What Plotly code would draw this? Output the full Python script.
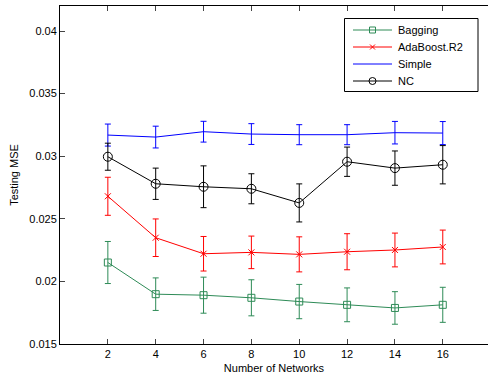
import plotly.graph_objects as go

networks = [2, 4, 6, 8, 10, 12, 14, 16]

bagging = [0.02151, 0.01898, 0.01890, 0.01869, 0.01839, 0.01813, 0.01788, 0.01813]
bagging_err = [0.00168, 0.00130, 0.00144, 0.00144, 0.00137, 0.00135, 0.00130, 0.00140]

adaboost = [0.02680, 0.02349, 0.02221, 0.02232, 0.02216, 0.02237, 0.02251, 0.02275]
adaboost_err = [0.00152, 0.00150, 0.00138, 0.00130, 0.00140, 0.00144, 0.00135, 0.00135]

simple = [0.03169, 0.03153, 0.03196, 0.03177, 0.03172, 0.03172, 0.03188, 0.03185]
simple_err = [0.00088, 0.00087, 0.00083, 0.00083, 0.00080, 0.00080, 0.00090, 0.00092]

nc = [0.02996, 0.02780, 0.02756, 0.02740, 0.02627, 0.02956, 0.02905, 0.02932]
nc_err = [0.00108, 0.00125, 0.00167, 0.00120, 0.00152, 0.00117, 0.00137, 0.00153]

y_ticks = [0.015, 0.02, 0.025, 0.03, 0.035, 0.04]
y_tick_labels = ["0.015", "0.02", "0.025", "0.03", "0.035", "0.04"]

FONT = "Liberation Sans, Arial, Helvetica, sans-serif"

series = [
    ("Bagging", bagging, bagging_err, "#2e8b57", "square-open", 7, 6),
    ("AdaBoost.R2", adaboost, adaboost_err, "#ff0000", "x-thin-open", 6, 5),
    ("Simple", simple, simple_err, "#0000ff", None, 0, 0),
    ("NC", nc, nc_err, "#000000", "circle-open", 9, 7),
]

# plot-area geometry (pixels) used to place the hand-drawn MATLAB-style legend
W, H = 488, 379
L, R, T, B = 60, 0, 6, 35
PW, PH = W - L - R, H - T - B


def fx(px):
    return (px - L) / PW


def fy(py):
    return (H - B - py) / PH


fig = go.Figure()
for name, vals, errs, color, sym, size, _ in series:
    marker = dict(color=color, size=size, line=dict(color=color, width=1))
    if sym:
        marker["symbol"] = sym
    fig.add_trace(go.Scatter(
        x=networks, y=vals, name=name, showlegend=False,
        mode="lines+markers" if sym else "lines",
        line=dict(color=color, width=1),
        marker=marker,
        error_y=dict(type="data", array=errs, visible=True, color=color,
                     thickness=1, width=3),
    ))

# legend: box, line samples, markers, labels
shapes = [dict(type="rect", xref="paper", yref="paper",
               x0=fx(344.5), x1=fx(478), y0=fy(18.5), y1=fy(91.5),
               line=dict(color="black", width=1), fillcolor="white", layer="below")]
annotations = []
leg_rows = [30, 47, 64, 81]
for (name, vals, errs, color, sym, size, lsize), row in zip(series, leg_rows):
    shapes.append(dict(type="line", xref="paper", yref="paper",
                       x0=fx(353), x1=fx(392), y0=fy(row), y1=fy(row),
                       line=dict(color=color, width=1), layer="below"))
    annotations.append(dict(xref="paper", yref="paper", x=fx(396), y=fy(row),
                            text=name, showarrow=False, xanchor="left",
                            yanchor="middle", font=dict(size=11, color="black")))
    if sym:
        fig.add_trace(go.Scatter(
            x=[fx(372.5)], y=[fy(row)], xaxis="x3", yaxis="y3",
            mode="markers", showlegend=False, hoverinfo="skip",
            marker=dict(symbol=sym, size=lsize, color=color,
                        line=dict(color=color, width=1)),
        ))

fig.update_layout(
    width=W, height=H,
    margin=dict(l=L, r=R, t=T, b=B),
    paper_bgcolor="white", plot_bgcolor="white",
    font=dict(family=FONT, size=11, color="black"),
    showlegend=False,
    shapes=shapes,
    annotations=annotations,
    xaxis=dict(range=[0, 17.89], tickvals=networks, ticks="inside", ticklen=5,
               showline=True, linecolor="black", linewidth=1, mirror="ticks",
               showgrid=False, zeroline=False,
               title=dict(text="Number of Networks", standoff=5, font=dict(size=11))),
    yaxis=dict(range=[0.015, 0.042], tickvals=y_ticks, ticktext=y_tick_labels,
               ticks="inside", ticklen=5,
               showline=True, linecolor="black", linewidth=1, mirror=False,
               showgrid=False, zeroline=False,
               title=dict(text="Testing MSE", standoff=8, font=dict(size=11))),
    yaxis2=dict(range=[0.015, 0.042], tickvals=y_ticks, overlaying="y", side="right",
                ticks="inside", ticklen=4, showticklabels=False, showline=False,
                showgrid=False, zeroline=False, tickcolor="black"),
    xaxis3=dict(range=[0, 1], overlaying="x", visible=False, fixedrange=True),
    yaxis3=dict(range=[0, 1], overlaying="y", visible=False, fixedrange=True),
)

fig.write_html("out.html")
